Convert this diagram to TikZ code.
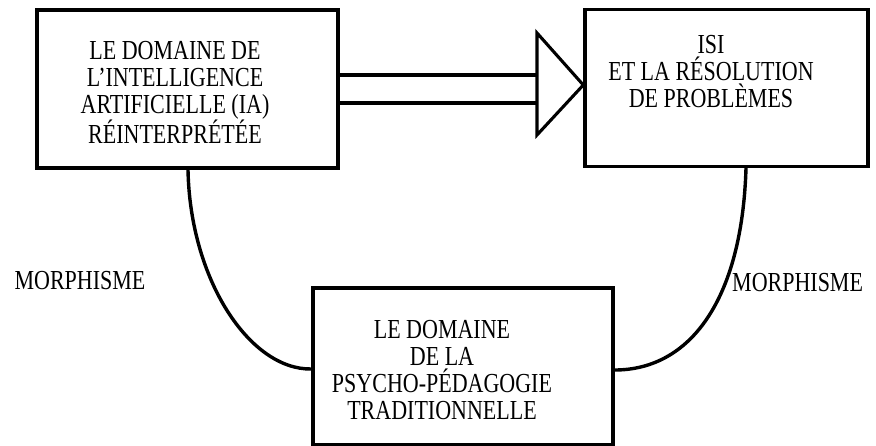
\documentclass[tikz,border=0pt]{standalone}
\usepackage{fontspec}
\setmainfont{Liberation Serif}
\usetikzlibrary{arrows.meta, positioning}

\tikzset{
    domainbox/.style={draw, line width=3.4pt, inner sep=0pt},
    capstext/.style={align=center, inner sep=0pt, yscale=1.25, font=\fontsize{22}{21.5}\selectfont},
    morph/.style={line width=3.4pt},
    rail/.style={line width=3.1pt},
}

\begin{document}
\begin{tikzpicture}[x=1pt, y=-1pt]
    \useasboundingbox (0,0) rectangle (876,446);

    \node[domainbox, minimum width=301pt, minimum height=158pt] (iaBox) at (187.5,89) {};
    \node[domainbox, minimum width=283pt, minimum height=157pt] (isiBox) at (726.5,88) {};
    \node[domainbox, minimum width=300pt, minimum height=157pt] (psyBox) at (463,366.5) {};

    \node[capstext, anchor=north] (iaText) at (175,41) {LE DOMAINE DE\\L'INTELLIGENCE\\ARTIFICIELLE (IA)\\RÉINTERPRÉTÉE};
    \node[capstext, anchor=north] (isiText) at (711,35) {ISI\\ET LA RÉSOLUTION\\DE PROBLÈMES};
    \node[capstext, anchor=north] (psyText) at (442,320) {LE DOMAINE\\DE LA\\PSYCHO-PÉDAGOGIE\\TRADITIONNELLE};

    \node[capstext, anchor=base] (morphLeft) at (80,290) {MORPHISME};
    \node[capstext, anchor=base west] (morphRight) at (732,292) {MORPHISME};

    \coordinate (apex) at (isiBox.west |- 0,85);
    \coordinate (triTop) at (537,33);
    \coordinate (triBottom) at (537,135);
    \draw[rail, line join=miter] (triTop) -- (apex) -- (triBottom) -- cycle;
    \draw[rail] (iaBox.east |- 0,75) -- (triTop |- 0,75);
    \draw[rail] (iaBox.east |- 0,103) -- (triTop |- 0,103);

    \draw[morph] (iaBox.south -| 188,0) .. controls (190,280) and (250,370) .. (psyBox.west |- 0,369);
    \draw[morph] (isiBox.south -| 746,0) .. controls (742,300) and (690,370) .. (psyBox.east |- 0,370);
\end{tikzpicture}
\end{document}
